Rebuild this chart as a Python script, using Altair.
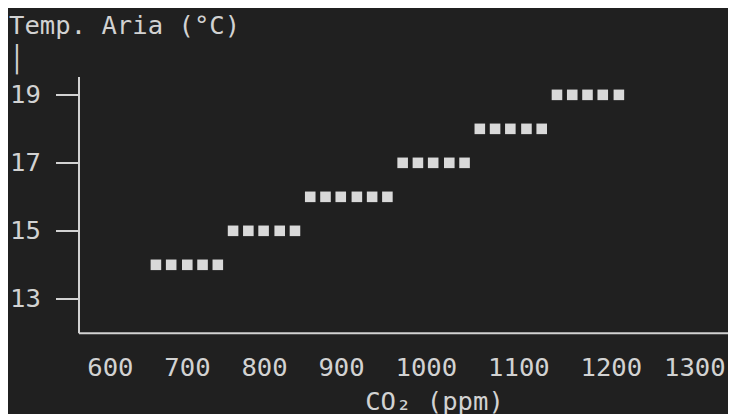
import altair as alt
import pandas as pd

# Data
co2_ppm = [668, 686, 705, 723, 741,
           759, 777, 795, 814, 832,
           850, 868, 886, 905, 923, 941,
           959, 977, 995, 1014, 1032,
           1050, 1068, 1086, 1105, 1123,
           1141, 1159, 1177, 1195, 1214]
temp_c = [14, 14, 14, 14, 14,
          15, 15, 15, 15, 15,
          16, 16, 16, 16, 16, 16,
          17, 17, 17, 17, 17,
          18, 18, 18, 18, 18,
          19, 19, 19, 19, 19]
x_tick_values = [600, 700, 800, 900, 1000, 1100, 1200, 1300]
y_tick_values = [13, 15, 17, 19]

df = pd.DataFrame({"co2": co2_ppm, "temp": temp_c})

BG = "#202020"
FG = "#d2d2d2"
FONT = "DejaVu Sans Mono"
FS = 25.6

# terminal-style label nudges (character-cell placement)
label_shift = {600: 11.6, 700: 3.9, 800: -3.8, 900: -11.6,
               1000: -11.6, 1100: -3.8, 1200: 3.8, 1300: 2.5}

x_axis = alt.Axis(
    values=x_tick_values, format="d", ticks=False, tickSize=0, grid=False,
    domain=True, domainColor=FG, domainWidth=2,
    labelFont=FONT, labelFontSize=FS, labelColor=FG, labelBaseline="alphabetic",
    labelPadding=42.5, labelFlush=False, labelOverlap=False,
    labelOffset={
        "condition": [{"test": f"datum.value == {k}", "value": v} for k, v in label_shift.items()],
        "value": 0,
    },
    title="CO\u2082 (ppm)", titleFont=FONT, titleFontSize=FS, titleFontWeight="normal",
    titleColor=FG, titleAlign="center", titleBaseline="alphabetic", titleX=355.5, titleY=76.2,
)

y_axis = alt.Axis(
    values=y_tick_values, ticks=True, tickSize=23, tickWidth=2, tickColor=FG, grid=False,
    domain=True, domainColor=FG, domainWidth=2,
    labelFont=FONT, labelFontSize=FS, labelColor=FG, labelAlign="right", labelBaseline="middle",
    labelPadding=15.2, labelFlush=False, labelOverlap=False,
    title=["Temp. Aria (\u00b0C)", "\u2502"], titleFont=FONT, titleFontSize=FS,
    titleFontWeight="normal", titleColor=FG, titleAngle=0, titleAlign="left",
    titleBaseline="alphabetic", titleLineHeight=34, titleX=-70, titleY=-43.5,
)

chart = (
    alt.Chart(df)
    .mark_point(shape="square", filled=True, size=112, color="#d9d9d9", opacity=1)
    .encode(
        x=alt.X("co2:Q", scale=alt.Scale(domain=[576.7, 1342.7], nice=False, zero=False), axis=x_axis),
        y=alt.Y("temp:Q", scale=alt.Scale(domain=[12, 19.54], nice=False, zero=False), axis=y_axis),
    )
    .properties(
        width=649.5,
        height=256.3,
        autosize="none",
        padding={"left": 70.5, "top": 68.5, "right": 0, "bottom": 81.2},
        background=BG,
    )
    .configure_view(stroke=None)
)

chart.save("out.html", embed_options={"renderer": "svg", "actions": False})
